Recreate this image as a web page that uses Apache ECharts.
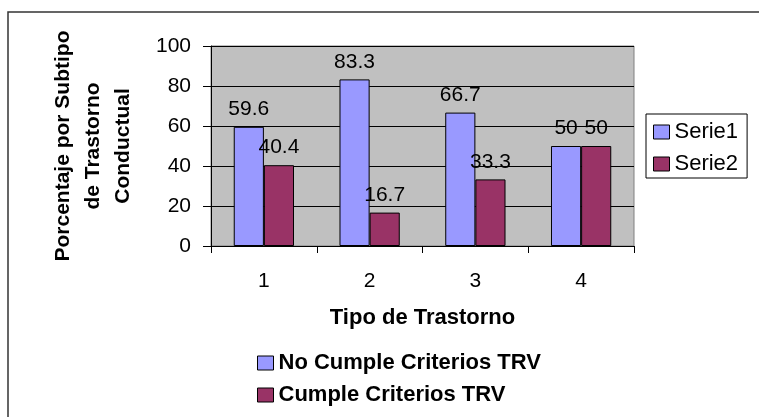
<!DOCTYPE html>
<html>
<head>
<meta charset="utf-8">
<script src="https://cdn.jsdelivr.net/npm/echarts@6/dist/echarts.min.js"></script>
<style>
  html, body { margin: 0; padding: 0; background: #fff; }
  #chart { width: 759px; height: 417px; }
</style>
</head>
<body>
<div id="chart"></div>
<script>
// datos
const categories = ["1", "2", "3", "4"];
const serie1 = [59.6, 83.3, 66.7, 50];
const serie2 = [40.4, 16.7, 33.3, 50];
const yTicks = { min: 0, max: 100, interval: 20 };
const criteriosLabels = ["No Cumple Criterios TRV", "Cumple Criterios TRV"];

const FONT = "Liberation Sans, Arial, sans-serif";
const BLUE = "#9999FF";
const MAROON = "#993366";

document.addEventListener("DOMContentLoaded", function () {
  const chart = echarts.init(document.getElementById("chart"));
  const barLabel = {
    show: true,
    position: "top",
    distance: 7,
    color: "#000",
    fontSize: 21,
    fontFamily: FONT,
  };
  const option = {
    animation: false,
    textStyle: { fontFamily: FONT },
    graphic: [
      {
        type: "rect",
        z: -10,
        shape: { x: 8, y: 12, width: 800, height: 500 },
        style: { fill: "none", stroke: "#333", lineWidth: 1.5 },
      },
      {
        type: "text",
        x: 93,
        y: 146,
        rotation: Math.PI / 2,
        style: {
          text: "Porcentaje por Subtipo\nde Trastorno\nConductual",
          font: "bold 21px " + FONT,
          fill: "#000",
          align: "center",
          verticalAlign: "middle",
          lineHeight: 30,
        },
      },
    ],
    grid: {
      left: 211,
      right: 125,
      top: 46,
      bottom: 171,
      show: true,
      backgroundColor: "#C0C0C0",
      borderColor: "#808080",
      borderWidth: 1,
    },
    legend: [
      {
        orient: "vertical",
        left: 646,
        top: 114,
        padding: [7, 9, 3, 7],
        itemWidth: 16,
        itemHeight: 14,
        itemGap: 10,
        borderColor: "#000",
        borderWidth: 1,
        textStyle: { fontSize: 22, color: "#000", fontFamily: FONT },
        data: [
          { name: "Serie1", icon: "rect", itemStyle: { color: BLUE, borderColor: "#000", borderWidth: 1 } },
          { name: "Serie2", icon: "rect", itemStyle: { color: MAROON, borderColor: "#000", borderWidth: 1 } },
        ],
      },
      {
        orient: "vertical",
        left: 257,
        top: 352,
        padding: 0,
        itemWidth: 16,
        itemHeight: 14,
        itemGap: 10,
        textStyle: { fontSize: 22, fontWeight: "bold", color: "#000", fontFamily: FONT },
        data: [
          { name: criteriosLabels[0], icon: "rect", itemStyle: { color: BLUE, borderColor: "#000", borderWidth: 1 } },
          { name: criteriosLabels[1], icon: "rect", itemStyle: { color: MAROON, borderColor: "#000", borderWidth: 1 } },
        ],
      },
    ],
    xAxis: {
      type: "category",
      data: categories,
      name: "Tipo de Trastorno",
      nameLocation: "middle",
      nameGap: 61,
      nameTextStyle: { fontSize: 22, fontWeight: "bold", color: "#000" },
      axisLine: { lineStyle: { color: "#000", width: 1 } },
      axisTick: { show: true, length: 7, lineStyle: { color: "#000" } },
      axisLabel: { color: "#000", fontSize: 21, margin: 25 },
    },
    yAxis: {
      type: "value",
      min: yTicks.min,
      max: yTicks.max,
      interval: yTicks.interval,
      axisLine: { show: true, lineStyle: { color: "#000", width: 1 } },
      axisTick: { show: true, length: 8, lineStyle: { color: "#000" } },
      axisLabel: { color: "#000", fontSize: 21, margin: 20 },
      splitLine: { lineStyle: { color: "#000", width: 1 } },
    },
    series: [
      {
        name: "Serie1",
        type: "bar",
        data: serie1,
        barGap: "0%",
        barCategoryGap: "43%",
        itemStyle: { color: BLUE, borderColor: "#000", borderWidth: 1 },
        label: barLabel,
      },
      {
        name: "Serie2",
        type: "bar",
        data: serie2,
        itemStyle: { color: MAROON, borderColor: "#000", borderWidth: 1 },
        label: barLabel,
      },
      { name: criteriosLabels[0], type: "line", data: [], itemStyle: { color: BLUE } },
      { name: criteriosLabels[1], type: "line", data: [], itemStyle: { color: MAROON } },
    ],
  };
  chart.setOption(option);
  window.addEventListener("resize", function () {
    chart.resize();
  });
});
</script>
</body>
</html>
